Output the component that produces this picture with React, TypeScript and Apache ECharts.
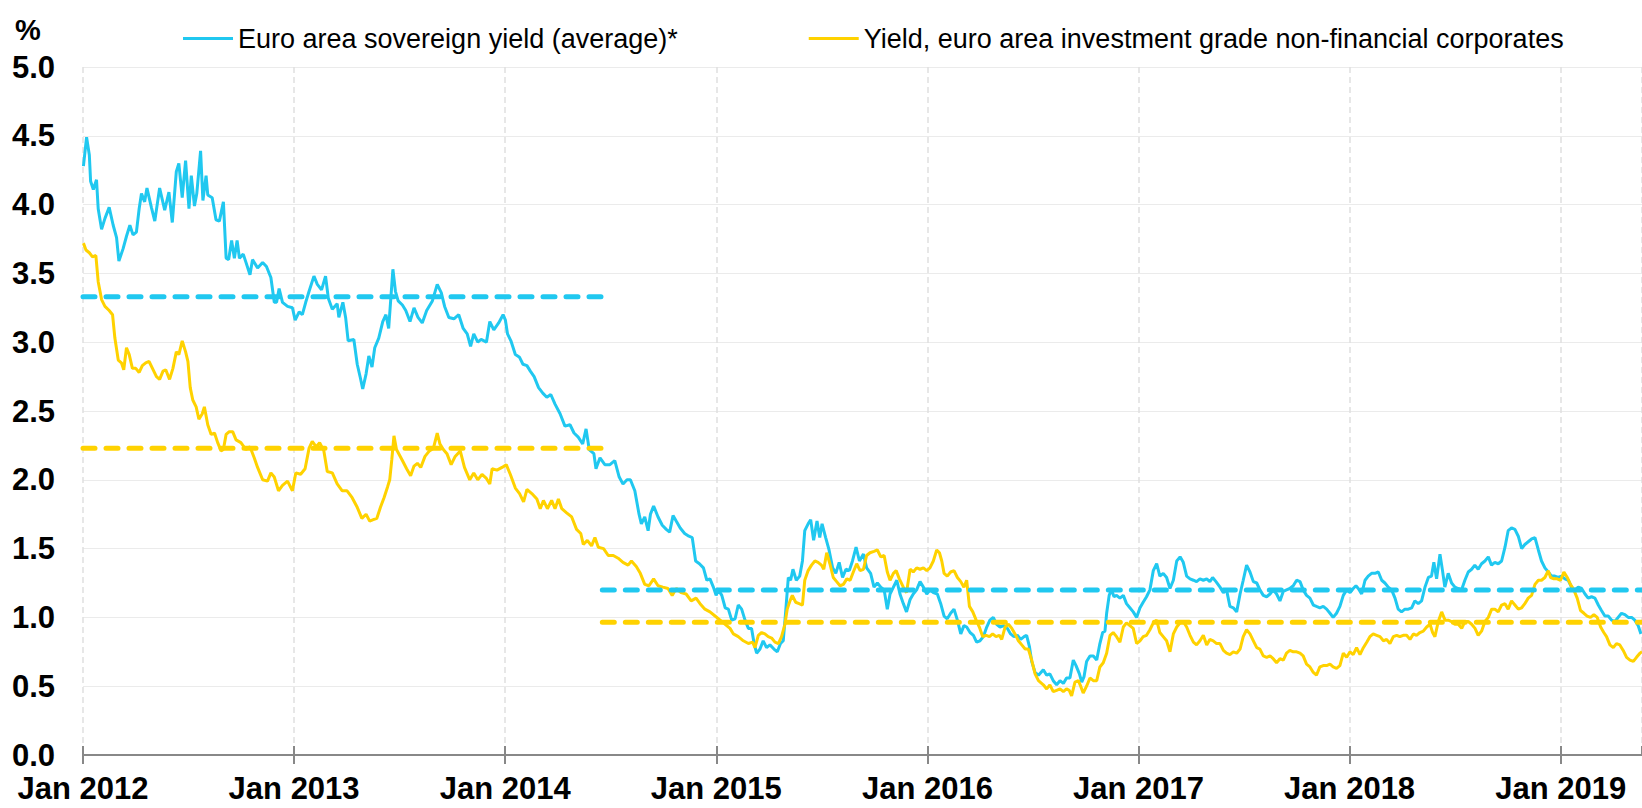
import React, { useEffect, useRef } from 'react';
import * as echarts from 'echarts';

const FONT = '"Liberation Sans", Arial, Helvetica, sans-serif';
const BLUE = '#20c8f0';
const YELLOW = '#ffd200';

const xTickLabels = ['Jan 2012', 'Jan 2013', 'Jan 2014', 'Jan 2015', 'Jan 2016', 'Jan 2017', 'Jan 2018', 'Jan 2019'];
const seriesNames = [
  'Euro area sovereign yield (average)*',
  'Yield, euro area investment grade non-financial corporates',
];

// x = years elapsed since 1 Jan 2012, y = yield in %
const sovereign: [number, number][] = [
  [0.002, 4.28], [0.017, 4.49], [0.030, 4.36], [0.036, 4.17], [0.049, 4.11], [0.064, 4.18], [0.072, 3.97], [0.088, 3.82],
  [0.104, 3.90], [0.124, 3.98], [0.143, 3.85], [0.159, 3.76], [0.170, 3.59], [0.190, 3.68], [0.206, 3.77], [0.222, 3.85],
  [0.237, 3.78], [0.253, 3.80], [0.266, 3.97], [0.277, 4.08], [0.292, 4.02], [0.303, 4.12], [0.324, 3.98], [0.340, 3.88],
  [0.363, 4.12], [0.387, 3.96], [0.407, 4.09], [0.423, 3.87], [0.442, 4.24], [0.454, 4.30], [0.470, 4.05], [0.486, 4.32],
  [0.502, 3.97], [0.513, 4.21], [0.528, 3.99], [0.539, 4.08], [0.557, 4.39], [0.568, 4.03], [0.583, 4.21], [0.591, 4.07],
  [0.612, 4.05], [0.630, 3.89], [0.646, 3.88], [0.665, 4.02], [0.678, 3.61], [0.690, 3.60], [0.704, 3.74], [0.717, 3.61],
  [0.730, 3.74], [0.741, 3.61], [0.759, 3.64], [0.772, 3.58], [0.791, 3.49], [0.803, 3.60], [0.827, 3.54], [0.851, 3.58],
  [0.869, 3.55], [0.890, 3.47], [0.906, 3.29], [0.917, 3.29], [0.929, 3.39], [0.945, 3.29], [0.969, 3.26], [0.992, 3.25],
  [1.005, 3.16], [1.024, 3.22], [1.039, 3.20], [1.055, 3.29], [1.071, 3.37], [1.094, 3.48], [1.110, 3.42], [1.130, 3.38],
  [1.149, 3.48], [1.162, 3.32], [1.181, 3.24], [1.204, 3.28], [1.212, 3.18], [1.231, 3.29], [1.244, 3.18], [1.256, 3.01],
  [1.283, 3.02], [1.299, 2.84], [1.314, 2.74], [1.325, 2.66], [1.341, 2.77], [1.354, 2.90], [1.369, 2.82], [1.382, 2.96],
  [1.401, 3.03], [1.420, 3.15], [1.435, 3.20], [1.448, 3.10], [1.468, 3.53], [1.480, 3.37], [1.493, 3.30], [1.513, 3.27],
  [1.529, 3.23], [1.549, 3.15], [1.568, 3.25], [1.587, 3.18], [1.607, 3.14], [1.628, 3.23], [1.655, 3.30], [1.678, 3.42],
  [1.697, 3.36], [1.713, 3.26], [1.733, 3.18], [1.757, 3.17], [1.780, 3.20], [1.801, 3.10], [1.820, 3.06], [1.836, 2.97],
  [1.851, 3.06], [1.870, 3.00], [1.886, 3.02], [1.911, 3.00], [1.927, 3.15], [1.946, 3.09], [1.969, 3.14], [1.990, 3.20],
  [2.001, 3.16], [2.011, 3.06], [2.027, 3.01], [2.048, 2.91], [2.068, 2.89], [2.084, 2.84], [2.103, 2.83], [2.119, 2.79],
  [2.137, 2.75], [2.158, 2.67], [2.178, 2.63], [2.197, 2.60], [2.216, 2.62], [2.236, 2.55], [2.260, 2.48], [2.283, 2.39],
  [2.307, 2.40], [2.326, 2.34], [2.346, 2.31], [2.367, 2.26], [2.383, 2.37], [2.398, 2.22], [2.420, 2.19], [2.430, 2.08],
  [2.449, 2.16], [2.472, 2.11], [2.496, 2.11], [2.519, 2.14], [2.540, 2.02], [2.558, 1.97], [2.577, 2.00], [2.593, 2.00],
  [2.614, 1.92], [2.634, 1.75], [2.645, 1.68], [2.661, 1.73], [2.677, 1.63], [2.688, 1.75], [2.703, 1.81], [2.724, 1.73],
  [2.744, 1.67], [2.763, 1.64], [2.779, 1.62], [2.795, 1.74], [2.810, 1.70], [2.829, 1.65], [2.850, 1.61], [2.870, 1.59],
  [2.886, 1.58], [2.902, 1.41], [2.920, 1.39], [2.939, 1.36], [2.955, 1.27], [2.970, 1.28], [2.986, 1.22], [2.999, 1.16],
  [3.010, 1.20], [3.026, 1.16], [3.042, 1.07], [3.057, 1.06], [3.073, 0.98], [3.089, 0.99], [3.104, 1.09], [3.120, 1.06],
  [3.136, 0.98], [3.152, 0.92], [3.167, 0.92], [3.179, 0.81], [3.191, 0.74], [3.207, 0.77], [3.222, 0.83], [3.238, 0.78],
  [3.254, 0.80], [3.273, 0.77], [3.289, 0.75], [3.304, 0.81], [3.317, 0.83], [3.329, 1.05], [3.341, 1.29], [3.352, 1.27],
  [3.363, 1.35], [3.379, 1.27], [3.395, 1.30], [3.408, 1.41], [3.419, 1.63], [3.435, 1.68], [3.447, 1.71], [3.461, 1.56],
  [3.477, 1.70], [3.490, 1.58], [3.501, 1.68], [3.518, 1.58], [3.534, 1.49], [3.551, 1.36], [3.566, 1.32], [3.582, 1.40],
  [3.598, 1.29], [3.614, 1.35], [3.630, 1.34], [3.645, 1.41], [3.662, 1.51], [3.678, 1.41], [3.697, 1.46], [3.712, 1.36],
  [3.731, 1.32], [3.747, 1.22], [3.763, 1.25], [3.779, 1.22], [3.795, 1.20], [3.810, 1.06], [3.823, 1.17], [3.839, 1.22],
  [3.855, 1.27], [3.870, 1.17], [3.886, 1.10], [3.901, 1.04], [3.918, 1.13], [3.933, 1.17], [3.949, 1.20], [3.965, 1.26],
  [3.981, 1.22], [3.997, 1.17], [4.012, 1.20], [4.028, 1.18], [4.047, 1.17], [4.063, 1.10], [4.079, 1.01], [4.094, 0.99],
  [4.110, 1.03], [4.126, 1.06], [4.142, 0.98], [4.158, 0.88], [4.173, 0.94], [4.186, 0.93], [4.202, 0.89], [4.218, 0.87],
  [4.233, 0.82], [4.249, 0.83], [4.265, 0.86], [4.281, 0.93], [4.296, 0.98], [4.312, 1.00], [4.328, 0.95], [4.344, 0.93],
  [4.363, 0.94], [4.379, 0.92], [4.394, 0.88], [4.410, 0.86], [4.426, 0.87], [4.442, 0.84], [4.458, 0.86], [4.470, 0.87],
  [4.483, 0.79], [4.494, 0.68], [4.510, 0.60], [4.526, 0.58], [4.549, 0.62], [4.565, 0.58], [4.580, 0.59], [4.596, 0.54],
  [4.612, 0.51], [4.628, 0.54], [4.644, 0.52], [4.659, 0.56], [4.675, 0.56], [4.691, 0.69], [4.704, 0.65], [4.720, 0.59],
  [4.731, 0.53], [4.742, 0.57], [4.754, 0.68], [4.770, 0.72], [4.786, 0.72], [4.802, 0.69], [4.817, 0.81], [4.830, 0.89],
  [4.841, 0.90], [4.849, 1.03], [4.861, 1.16], [4.872, 1.20], [4.884, 1.15], [4.896, 1.16], [4.912, 1.14], [4.928, 1.16],
  [4.943, 1.10], [4.959, 1.07], [4.975, 1.04], [4.991, 1.00], [5.007, 1.07], [5.022, 1.11], [5.038, 1.15], [5.054, 1.20],
  [5.070, 1.34], [5.086, 1.39], [5.101, 1.30], [5.117, 1.32], [5.133, 1.29], [5.149, 1.21], [5.165, 1.27], [5.181, 1.41],
  [5.197, 1.44], [5.212, 1.40], [5.228, 1.30], [5.244, 1.28], [5.260, 1.27], [5.275, 1.26], [5.291, 1.28], [5.307, 1.27],
  [5.323, 1.28], [5.338, 1.26], [5.351, 1.29], [5.367, 1.26], [5.386, 1.22], [5.402, 1.18], [5.417, 1.20], [5.433, 1.08],
  [5.449, 1.07], [5.465, 1.04], [5.481, 1.17], [5.496, 1.27], [5.512, 1.38], [5.528, 1.33], [5.544, 1.26], [5.560, 1.25],
  [5.575, 1.20], [5.591, 1.16], [5.607, 1.15], [5.623, 1.17], [5.638, 1.20], [5.654, 1.17], [5.670, 1.12], [5.686, 1.19],
  [5.701, 1.20], [5.717, 1.21], [5.733, 1.23], [5.749, 1.27], [5.765, 1.26], [5.780, 1.20], [5.796, 1.16], [5.812, 1.14],
  [5.828, 1.09], [5.843, 1.08], [5.859, 1.07], [5.875, 1.08], [5.891, 1.06], [5.907, 1.03], [5.922, 1.00], [5.938, 1.03],
  [5.954, 1.08], [5.970, 1.16], [5.986, 1.20], [6.002, 1.18], [6.017, 1.21], [6.030, 1.23], [6.041, 1.21], [6.057, 1.17],
  [6.073, 1.27], [6.088, 1.30], [6.104, 1.32], [6.120, 1.32], [6.136, 1.33], [6.152, 1.27], [6.167, 1.25], [6.183, 1.22],
  [6.199, 1.20], [6.215, 1.14], [6.230, 1.06], [6.246, 1.04], [6.262, 1.06], [6.278, 1.06], [6.294, 1.07], [6.309, 1.12],
  [6.325, 1.10], [6.341, 1.12], [6.357, 1.22], [6.373, 1.29], [6.388, 1.30], [6.399, 1.40], [6.412, 1.28], [6.428, 1.46],
  [6.440, 1.34], [6.451, 1.22], [6.467, 1.32], [6.483, 1.25], [6.499, 1.22], [6.514, 1.21], [6.530, 1.20], [6.546, 1.27],
  [6.562, 1.33], [6.578, 1.35], [6.593, 1.38], [6.609, 1.35], [6.625, 1.39], [6.641, 1.41], [6.657, 1.44], [6.672, 1.38],
  [6.688, 1.40], [6.704, 1.39], [6.720, 1.41], [6.736, 1.51], [6.751, 1.63], [6.767, 1.65], [6.783, 1.64], [6.799, 1.59],
  [6.815, 1.50], [6.830, 1.53], [6.846, 1.55], [6.862, 1.57], [6.878, 1.58], [6.894, 1.49], [6.909, 1.41], [6.925, 1.36],
  [6.941, 1.33], [6.957, 1.30], [6.972, 1.30], [6.988, 1.29], [7.004, 1.30], [7.020, 1.28], [7.036, 1.27], [7.051, 1.22],
  [7.067, 1.20], [7.083, 1.22], [7.099, 1.21], [7.115, 1.17], [7.130, 1.14], [7.146, 1.15], [7.162, 1.14], [7.178, 1.09],
  [7.193, 1.05], [7.209, 1.01], [7.225, 1.01], [7.241, 0.98], [7.257, 0.97], [7.272, 1.00], [7.288, 1.03], [7.304, 1.02],
  [7.320, 1.00], [7.336, 1.00], [7.351, 0.98], [7.367, 0.94], [7.380, 0.88],
];

const corporate: [number, number][] = [
  [0.002, 3.72], [0.014, 3.67], [0.030, 3.65], [0.045, 3.62], [0.061, 3.63], [0.072, 3.44], [0.088, 3.31], [0.104, 3.26],
  [0.124, 3.23], [0.140, 3.20], [0.151, 3.03], [0.167, 2.87], [0.182, 2.85], [0.193, 2.80], [0.206, 2.96], [0.219, 2.91],
  [0.234, 2.81], [0.250, 2.81], [0.266, 2.78], [0.281, 2.83], [0.297, 2.85], [0.313, 2.86], [0.329, 2.81], [0.348, 2.75],
  [0.363, 2.73], [0.379, 2.79], [0.392, 2.80], [0.410, 2.73], [0.426, 2.81], [0.442, 2.93], [0.454, 2.91], [0.470, 3.01],
  [0.486, 2.93], [0.497, 2.86], [0.508, 2.67], [0.520, 2.58], [0.536, 2.53], [0.549, 2.44], [0.565, 2.48], [0.575, 2.53],
  [0.591, 2.40], [0.607, 2.33], [0.623, 2.34], [0.638, 2.27], [0.654, 2.21], [0.665, 2.22], [0.678, 2.33], [0.693, 2.35],
  [0.709, 2.35], [0.725, 2.29], [0.748, 2.27], [0.772, 2.22], [0.791, 2.24], [0.811, 2.16], [0.827, 2.09], [0.851, 2.00],
  [0.874, 1.99], [0.890, 2.05], [0.906, 2.02], [0.926, 1.92], [0.945, 1.96], [0.969, 1.99], [0.992, 1.92], [1.008, 2.05],
  [1.031, 2.04], [1.052, 2.08], [1.071, 2.23], [1.086, 2.28], [1.105, 2.24], [1.121, 2.27], [1.141, 2.21], [1.157, 2.06],
  [1.181, 2.05], [1.204, 1.97], [1.228, 1.92], [1.251, 1.92], [1.275, 1.87], [1.299, 1.80], [1.321, 1.72], [1.341, 1.75],
  [1.358, 1.70], [1.375, 1.71], [1.392, 1.72], [1.409, 1.80], [1.426, 1.87], [1.443, 1.95], [1.453, 2.00], [1.463, 2.15],
  [1.473, 2.32], [1.485, 2.22], [1.513, 2.14], [1.533, 2.08], [1.552, 2.03], [1.568, 2.10], [1.584, 2.12], [1.600, 2.09],
  [1.620, 2.17], [1.641, 2.21], [1.660, 2.23], [1.678, 2.34], [1.691, 2.26], [1.707, 2.22], [1.724, 2.19], [1.744, 2.11],
  [1.763, 2.17], [1.787, 2.21], [1.807, 2.09], [1.832, 2.00], [1.851, 2.05], [1.870, 2.00], [1.890, 2.04], [1.911, 2.01],
  [1.927, 1.97], [1.938, 2.08], [1.961, 2.07], [1.985, 2.09], [2.005, 2.11], [2.024, 2.04], [2.048, 1.94], [2.068, 1.90],
  [2.087, 1.84], [2.103, 1.93], [2.126, 1.90], [2.150, 1.86], [2.166, 1.79], [2.181, 1.85], [2.200, 1.79], [2.220, 1.85],
  [2.236, 1.79], [2.252, 1.86], [2.268, 1.79], [2.291, 1.76], [2.315, 1.73], [2.338, 1.64], [2.358, 1.61], [2.370, 1.53],
  [2.389, 1.56], [2.409, 1.52], [2.425, 1.58], [2.441, 1.51], [2.466, 1.50], [2.488, 1.45], [2.512, 1.45], [2.535, 1.43],
  [2.558, 1.40], [2.582, 1.38], [2.598, 1.41], [2.621, 1.37], [2.640, 1.32], [2.661, 1.24], [2.681, 1.23], [2.703, 1.28],
  [2.724, 1.23], [2.747, 1.22], [2.771, 1.21], [2.791, 1.16], [2.810, 1.21], [2.833, 1.18], [2.857, 1.17], [2.881, 1.12],
  [2.904, 1.14], [2.923, 1.10], [2.946, 1.06], [2.970, 1.04], [2.994, 1.01], [3.018, 0.98], [3.042, 0.95], [3.065, 0.92],
  [3.081, 0.88], [3.104, 0.86], [3.128, 0.83], [3.152, 0.81], [3.172, 0.82], [3.183, 0.78], [3.199, 0.87], [3.215, 0.89],
  [3.230, 0.88], [3.246, 0.86], [3.262, 0.85], [3.278, 0.82], [3.294, 0.81], [3.309, 0.86], [3.325, 0.95], [3.336, 1.06],
  [3.349, 1.12], [3.360, 1.16], [3.376, 1.11], [3.392, 1.10], [3.408, 1.09], [3.419, 1.27], [3.435, 1.34], [3.451, 1.38],
  [3.467, 1.41], [3.482, 1.40], [3.498, 1.38], [3.509, 1.35], [3.523, 1.47], [3.538, 1.39], [3.554, 1.29], [3.570, 1.26],
  [3.586, 1.23], [3.602, 1.24], [3.618, 1.28], [3.634, 1.27], [3.649, 1.33], [3.665, 1.39], [3.681, 1.34], [3.697, 1.35],
  [3.712, 1.45], [3.728, 1.47], [3.747, 1.48], [3.763, 1.49], [3.779, 1.44], [3.795, 1.45], [3.810, 1.33], [3.823, 1.27],
  [3.839, 1.32], [3.852, 1.34], [3.867, 1.28], [3.886, 1.22], [3.901, 1.18], [3.918, 1.35], [3.933, 1.33], [3.949, 1.36],
  [3.965, 1.35], [3.981, 1.36], [3.997, 1.34], [4.012, 1.36], [4.028, 1.41], [4.044, 1.49], [4.057, 1.47], [4.068, 1.41],
  [4.079, 1.32], [4.094, 1.30], [4.110, 1.33], [4.126, 1.34], [4.142, 1.29], [4.158, 1.26], [4.173, 1.22], [4.186, 1.27],
  [4.199, 1.08], [4.215, 1.04], [4.231, 0.98], [4.246, 0.93], [4.262, 0.86], [4.278, 0.87], [4.294, 0.86], [4.309, 0.88],
  [4.325, 0.86], [4.341, 0.87], [4.352, 0.84], [4.368, 0.93], [4.384, 0.95], [4.400, 0.92], [4.415, 0.88], [4.431, 0.83],
  [4.447, 0.80], [4.463, 0.77], [4.478, 0.77], [4.494, 0.69], [4.510, 0.59], [4.526, 0.54], [4.549, 0.51], [4.565, 0.48],
  [4.580, 0.51], [4.596, 0.46], [4.612, 0.47], [4.628, 0.48], [4.644, 0.46], [4.659, 0.48], [4.672, 0.47], [4.683, 0.43],
  [4.699, 0.53], [4.715, 0.54], [4.726, 0.50], [4.738, 0.45], [4.754, 0.50], [4.770, 0.56], [4.786, 0.54], [4.802, 0.54],
  [4.817, 0.64], [4.833, 0.67], [4.849, 0.74], [4.865, 0.87], [4.880, 0.89], [4.896, 0.86], [4.912, 0.82], [4.928, 0.93],
  [4.943, 0.96], [4.959, 0.94], [4.975, 0.92], [4.991, 0.81], [5.007, 0.83], [5.022, 0.86], [5.038, 0.87], [5.054, 0.91],
  [5.070, 0.96], [5.086, 0.98], [5.101, 0.89], [5.117, 0.86], [5.133, 0.83], [5.149, 0.75], [5.165, 0.88], [5.181, 0.93],
  [5.197, 0.96], [5.212, 0.97], [5.228, 0.93], [5.244, 0.87], [5.260, 0.82], [5.275, 0.80], [5.291, 0.83], [5.307, 0.87],
  [5.323, 0.80], [5.338, 0.84], [5.354, 0.83], [5.370, 0.81], [5.386, 0.81], [5.402, 0.76], [5.417, 0.74], [5.433, 0.73],
  [5.449, 0.75], [5.465, 0.74], [5.481, 0.77], [5.496, 0.86], [5.512, 0.91], [5.528, 0.88], [5.544, 0.83], [5.560, 0.78],
  [5.575, 0.77], [5.591, 0.72], [5.607, 0.71], [5.623, 0.72], [5.638, 0.70], [5.654, 0.67], [5.670, 0.70], [5.686, 0.69],
  [5.701, 0.74], [5.717, 0.76], [5.733, 0.75], [5.749, 0.75], [5.765, 0.74], [5.780, 0.72], [5.796, 0.66], [5.812, 0.64],
  [5.828, 0.60], [5.843, 0.58], [5.859, 0.64], [5.875, 0.65], [5.891, 0.65], [5.907, 0.66], [5.922, 0.64], [5.938, 0.63],
  [5.954, 0.65], [5.970, 0.74], [5.986, 0.71], [6.002, 0.75], [6.017, 0.73], [6.033, 0.78], [6.049, 0.73], [6.065, 0.78],
  [6.081, 0.82], [6.096, 0.86], [6.112, 0.88], [6.128, 0.87], [6.144, 0.86], [6.160, 0.83], [6.175, 0.84], [6.191, 0.81],
  [6.207, 0.86], [6.223, 0.87], [6.238, 0.86], [6.254, 0.87], [6.270, 0.87], [6.286, 0.84], [6.302, 0.88], [6.317, 0.87],
  [6.333, 0.89], [6.349, 0.90], [6.365, 0.93], [6.381, 0.95], [6.393, 0.89], [6.404, 0.86], [6.420, 0.97], [6.436, 1.04],
  [6.452, 0.98], [6.467, 0.98], [6.483, 0.97], [6.499, 0.95], [6.515, 0.95], [6.531, 0.92], [6.546, 0.97], [6.562, 0.97],
  [6.578, 0.95], [6.594, 0.92], [6.609, 0.87], [6.625, 0.90], [6.641, 0.97], [6.657, 1.00], [6.673, 1.06], [6.688, 1.06],
  [6.704, 1.04], [6.720, 1.09], [6.736, 1.10], [6.751, 1.06], [6.767, 1.12], [6.783, 1.09], [6.799, 1.06], [6.815, 1.07],
  [6.830, 1.10], [6.846, 1.14], [6.862, 1.16], [6.878, 1.24], [6.894, 1.27], [6.909, 1.27], [6.925, 1.29], [6.941, 1.34],
  [6.952, 1.29], [6.968, 1.28], [6.983, 1.28], [6.999, 1.27], [7.015, 1.33], [7.031, 1.29], [7.046, 1.24], [7.062, 1.20],
  [7.078, 1.14], [7.094, 1.05], [7.110, 1.03], [7.125, 1.01], [7.141, 1.00], [7.157, 1.02], [7.173, 1.00], [7.189, 0.93],
  [7.204, 0.89], [7.217, 0.86], [7.233, 0.80], [7.249, 0.78], [7.264, 0.81], [7.280, 0.80], [7.296, 0.76], [7.312, 0.71],
  [7.328, 0.69], [7.344, 0.68], [7.359, 0.71], [7.375, 0.74], [7.385, 0.75],
];

// period averages (dashed): period boundaries in years since Jan 2012
const periodBounds = [0, 2.46, 7.385];
const sovereignAvg = [3.33, 1.2];
const corporateAvg = [2.23, 0.965];

const X_MAX = 7.385;

export default function App() {
  const ref = useRef<HTMLDivElement>(null);

  useEffect(() => {
    if (!ref.current) return;
    const chart = echarts.init(ref.current, undefined, { renderer: 'svg' });

    const dashed = (name: string, color: string, avgs: number[]) =>
      avgs.map((v, i) => ({
        name: name + ' avg ' + i,
        type: 'line',
        symbol: 'none',
        silent: true,
        z: 3,
        lineStyle: { color, width: 5, type: [12, 11], cap: 'round' },
        data: [
          [periodBounds[i], v],
          [periodBounds[i + 1], v],
        ],
      }));

    const tickStyle = { color: '#888', width: 2 };
    const isYear = (v: number) => Math.abs(v - Math.round(v)) < 1e-6;

    const option: any = {
      animation: false,
      backgroundColor: '#fff',
      textStyle: { fontFamily: FONT },
      grid: { left: 83, right: 0, top: 67, bottom: 53, containLabel: false },
      legend: {
        data: seriesNames,
        left: 178,
        top: 20,
        icon: 'rect',
        itemWidth: 50,
        itemHeight: 3,
        itemGap: 131,
        textStyle: { fontSize: 27, color: '#000', fontFamily: FONT },
      },
      graphic: [
        {
          type: 'text',
          left: 15,
          top: 15,
          style: { text: '%', fontSize: 29, fontWeight: 'bold', fontFamily: FONT, fill: '#000' },
        },
      ],
      xAxis: [
        {
          type: 'value',
          min: 0,
          max: X_MAX,
          interval: 1,
          position: 'bottom',
          axisLine: { show: true, onZero: false, lineStyle: tickStyle },
          axisTick: { show: true, length: 9, lineStyle: tickStyle },
          axisLabel: {
            formatter: (v: number) => (isYear(v) ? xTickLabels[Math.round(v)] ?? '' : ''),
            fontSize: 31,
            fontWeight: 'bold',
            color: '#000',
            fontFamily: FONT,
            margin: 18,
            showMaxLabel: false,
          },
          splitLine: { show: true, lineStyle: { color: '#e0e0e0', width: 1.5, type: [6, 4] } },
        },
        {
          type: 'value',
          min: 0,
          max: X_MAX,
          interval: 1,
          position: 'bottom',
          axisLine: { show: false, onZero: false },
          axisTick: { show: true, inside: true, length: 9, lineStyle: tickStyle },
          axisLabel: { show: false },
          splitLine: { show: false },
        },
      ],
      yAxis: {
        type: 'value',
        min: 0,
        max: 5,
        interval: 0.5,
        axisLine: { show: false },
        axisTick: { show: false },
        axisLabel: {
          formatter: (v: number) => v.toFixed(1),
          fontSize: 31,
          fontWeight: 'bold',
          color: '#000',
          fontFamily: FONT,
          margin: 28,
        },
        splitLine: { show: true, lineStyle: { color: '#ebebeb', width: 1 } },
      },
      series: [
        {
          name: seriesNames[0],
          type: 'line',
          symbol: 'none',
          z: 2,
          lineStyle: { color: BLUE, width: 3 },
          itemStyle: { color: BLUE },
          data: sovereign,
        },
        {
          name: seriesNames[1],
          type: 'line',
          symbol: 'none',
          z: 2,
          lineStyle: { color: YELLOW, width: 3 },
          itemStyle: { color: YELLOW },
          data: corporate,
        },
        ...dashed('sov', BLUE, sovereignAvg),
        ...dashed('corp', YELLOW, corporateAvg),
      ],
    };

    chart.setOption(option);
    return () => chart.dispose();
  }, []);

  return (
    <div
      ref={ref}
      style={{ position: 'absolute', left: 0, top: 0, width: 1642, height: 808, background: '#fff' }}
    />
  );
}
